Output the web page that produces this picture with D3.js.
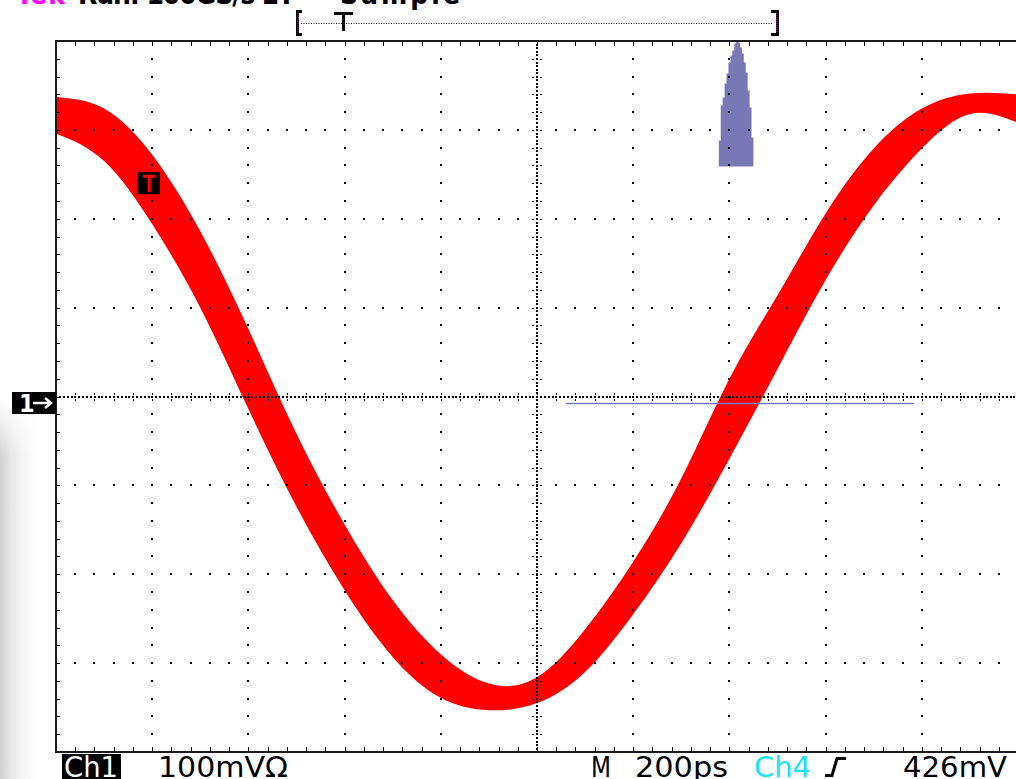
<!DOCTYPE html>
<html>
<head>
<meta charset="utf-8">
<script src="https://cdn.jsdelivr.net/npm/d3@7"></script>
<style>
  html, body { margin: 0; padding: 0; background: #fff; overflow: hidden; }
  svg { display: block; }
  text { font-family: "Liberation Sans Narrow", "DejaVu Sans Condensed", "Liberation Sans", sans-serif; }
</style>
</head>
<body>
<svg id="scope" width="1016" height="779"></svg>
<script>
// persistence band of Ch1, upper and lower edge read every 100 ps
var timePs = [-1000, -900, -800, -700, -600, -500, -400, -300, -200, -100, 0,
              100, 200, 300, 400, 500, 600, 700, 800, 900, 1000];
var upperMv = [337, 324, 272, 186, 76, -42, -144, -229, -290, -323, -316,
               -262, -186, -92, 20, 114, 206, 279, 324, 341, 340];
var lowerMv = [296, 265, 194, 100, -14, -124, -218, -293, -339, -353, -345,
               -310, -245, -165, -70, 31, 131, 215, 279, 318, 308];

// crossing-time histogram (Ch1 at ground level), bin edges in ps and hits
var histEdgesPs = [378, 382, 386, 390, 394, 398, 402, 406, 410, 414,
                   418, 422, 426, 430, 434, 438, 442, 446, 450];
var histHits = [26, 61, 69, 83, 93, 104, 111, 116, 123, 130,
                124, 119, 113, 104, 94, 76, 59, 29];
var histWindowPs = [60, 784];
var groundMv = -7;
var trigMarker = {t: -807, mv: 240};

// scope settings / readouts
var psPerDiv = 200, mvPerDiv = 100, xDivs = 10, yDivs = 8;
var headerLabels = ["Tek", "Run: 100GS/s ET", "Sample"];
var footerLabels = ["Ch1", "100mV\u03A9", "M", "200ps", "Ch4", "426mV"];

var plot = {left: 56, right: 1018, top: 41, bottom: 752};

var x = d3.scaleLinear()
  .domain([-psPerDiv * xDivs / 2, psPerDiv * xDivs / 2])
  .range([plot.left, plot.right]);
var y = d3.scaleLinear()
  .domain([-mvPerDiv * yDivs / 2, mvPerDiv * yDivs / 2])
  .range([plot.bottom, plot.top]);

var svg = d3.select("#scope");
var defs = svg.append("defs");

defs.append("clipPath").attr("id", "plotClip").append("rect")
  .attr("x", plot.left).attr("y", plot.top)
  .attr("width", plot.right - plot.left).attr("height", plot.bottom - plot.top);

var grad = defs.append("linearGradient").attr("id", "edgeGrey")
  .attr("x1", 0).attr("x2", 1).attr("y1", 0).attr("y2", 0);
grad.append("stop").attr("offset", 0).attr("stop-color", "#c4c4c4").attr("stop-opacity", 0.8);
grad.append("stop").attr("offset", 0.35).attr("stop-color", "#dcdcdc").attr("stop-opacity", 0.55);
grad.append("stop").attr("offset", 1).attr("stop-color", "#ffffff").attr("stop-opacity", 0);

var vgrad = defs.append("linearGradient").attr("id", "edgeFade")
  .attr("x1", 0).attr("x2", 0).attr("y1", 0).attr("y2", 1);
vgrad.append("stop").attr("offset", 0).attr("stop-color", "#fff").attr("stop-opacity", 0);
vgrad.append("stop").attr("offset", 0.15).attr("stop-color", "#fff").attr("stop-opacity", 1);
vgrad.append("stop").attr("offset", 1).attr("stop-color", "#fff").attr("stop-opacity", 1);
defs.append("mask").attr("id", "edgeMask").append("rect")
  .attr("x", 0).attr("y", 400).attr("width", 50).attr("height", 379)
  .attr("fill", "url(#edgeFade)");

/* grey photo strip on the far left */
svg.append("rect")
  .attr("x", 0).attr("y", 400).attr("width", 44).attr("height", 379)
  .attr("fill", "url(#edgeGrey)")
  .attr("mask", "url(#edgeMask)");

/* Waveform band */
var band = timePs.map(function(t, i) {
  return {t: t, hi: upperMv[i], lo: lowerMv[i]};
});

var area = d3.area()
  .x(function(d) { return x(d.t); })
  .y0(function(d) { return y(d.lo); })
  .y1(function(d) { return y(d.hi); })
  .curve(d3.curveNatural);

var traces = svg.append("g").attr("clip-path", "url(#plotClip)");

traces.append("path")
  .datum(band)
  .attr("d", area)
  .attr("fill", "#ff0000");

/* Histogram, drawn up from its own baseline */
var histBaseY = 166.5;
var hScale = d3.scaleLinear().domain([0, 130]).range([0, 130]);
var histPts = histHits.map(function(c, i) {
  return {t: histEdgesPs[i], c: c};
});
histPts.push({t: histEdgesPs[histEdgesPs.length - 1], c: histHits[histHits.length - 1]});

var histArea = d3.area()
  .x(function(d) { return x(d.t); })
  .y0(histBaseY)
  .y1(function(d) { return histBaseY - hScale(d.c); })
  .curve(d3.curveStepAfter);

traces.append("path")
  .datum(histPts)
  .attr("d", histArea)
  .attr("fill", "#7878b6");

traces.append("line")
  .attr("x1", x(histWindowPs[0])).attr("x2", x(histWindowPs[1]))
  .attr("y1", Math.round(y(groundMv)) + 0.5).attr("y2", Math.round(y(groundMv)) + 0.5)
  .attr("stroke", "#7a7ac0")
  .attr("stroke-width", 1.5);

/* Graticule */
var grat = svg.append("g").attr("shape-rendering", "crispEdges");

function dot(px, py, s) {
  grat.append("rect")
    .attr("x", Math.round(px - s / 2)).attr("y", Math.round(py - s / 2))
    .attr("width", s).attr("height", s)
    .attr("fill", "#000");
}

var xMajor = d3.range(x.domain()[0], x.domain()[1] + 1, psPerDiv);
var yMajor = d3.range(y.domain()[0], y.domain()[1] + 1, mvPerDiv);
var xMinor = d3.range(x.domain()[0], x.domain()[1] + 1, psPerDiv / 5);
var yMinor = d3.range(y.domain()[0], y.domain()[1] + 1, mvPerDiv / 5);
var xFine = d3.range(x.domain()[0], x.domain()[1] + 1, psPerDiv / 25);
var yFine = d3.range(y.domain()[0], y.domain()[1] + 1, mvPerDiv / 25);

// dotted major lines
xMajor.forEach(function(t) {
  if (t === x.domain()[0] || t === x.domain()[1] || t === 0) return;
  yMinor.forEach(function(v) {
    if (v === y.domain()[0] || v === y.domain()[1]) return;
    dot(x(t), y(v), 2);
  });
});
yMajor.forEach(function(v) {
  if (v === y.domain()[0] || v === y.domain()[1] || v === 0) return;
  xMinor.forEach(function(t) {
    if (t === x.domain()[0] || t === x.domain()[1]) return;
    dot(x(t), y(v), 2);
  });
});

// centre cross
xFine.forEach(function(t) { dot(x(t), y(0), 1.5); });
yFine.forEach(function(v) { dot(x(0), y(v), 1.5); });
xMinor.forEach(function(t) {
  grat.append("line")
    .attr("x1", Math.round(x(t)) + 0.5).attr("x2", Math.round(x(t)) + 0.5)
    .attr("y1", y(0) - 4).attr("y2", y(0) + 5)
    .attr("stroke", "#000").attr("stroke-width", 1).attr("stroke-dasharray", "2,1");
});
yMinor.forEach(function(v) {
  grat.append("line")
    .attr("y1", Math.round(y(v)) + 0.5).attr("y2", Math.round(y(v)) + 0.5)
    .attr("x1", x(0) - 5).attr("x2", x(0) + 6)
    .attr("stroke", "#000").attr("stroke-width", 1).attr("stroke-dasharray", "2,2");
});

// border ticks
xMinor.forEach(function(t) {
  var px = Math.round(x(t)) + 0.5;
  grat.append("line").attr("x1", px).attr("x2", px)
    .attr("y1", plot.top).attr("y2", plot.top + 5)
    .attr("stroke", "#000").attr("stroke-width", 1.5);
  grat.append("line").attr("x1", px).attr("x2", px)
    .attr("y1", plot.bottom - 5).attr("y2", plot.bottom)
    .attr("stroke", "#000").attr("stroke-width", 1.5);
});
yMinor.forEach(function(v) {
  var py = Math.round(y(v)) + 0.5;
  grat.append("line").attr("y1", py).attr("y2", py)
    .attr("x1", plot.left).attr("x2", plot.left + 4)
    .attr("stroke", "#000").attr("stroke-width", 1.5);
});

// frame
grat.append("path")
  .attr("d", "M" + plot.right + "," + plot.top + "H" + plot.left + "V" + plot.bottom + "H" + plot.right)
  .attr("fill", "none")
  .attr("stroke", "#1a1a1a")
  .attr("stroke-width", 2);

/* Markers */
// ground marker for channel 1
var gy = Math.round(y(groundMv));
svg.append("rect")
  .attr("x", 12).attr("y", gy - 11).attr("width", plot.left - 12).attr("height", 22)
  .attr("fill", "#000");
svg.append("text")
  .attr("x", 19).attr("y", gy + 9)
  .attr("fill", "#fff").attr("font-size", 25).attr("font-weight", "bold")
  .text("1");
svg.append("path")
  .attr("d", "M33," + gy + "H50M45," + (gy - 5) + "L51," + gy + "L45," + (gy + 5))
  .attr("fill", "none").attr("stroke", "#fff").attr("stroke-width", 2.5);

// trigger marker on the trace
var tx = x(trigMarker.t), ty = y(trigMarker.mv);
svg.append("rect")
  .attr("x", tx - 11).attr("y", ty - 11).attr("width", 22).attr("height", 22)
  .attr("fill", "#000");
svg.append("path")
  .attr("d", "M" + (tx - 6) + "," + (ty - 7) + "H" + (tx + 7) + "M" + (tx + 0.5) + "," + (ty - 7) + "V" + (ty + 9))
  .attr("fill", "none").attr("stroke", "#ff0000").attr("stroke-width", 3);

/* Record bracket at the top */
var hdr = svg.append("g");
hdr.append("line")
  .attr("x1", 301).attr("x2", 772).attr("y1", 23.5).attr("y2", 23.5)
  .attr("stroke", "#000").attr("stroke-width", 1).attr("stroke-dasharray", "1,1.5");
hdr.append("path")
  .attr("d", "M302,11.5H297.5V34.5H302")
  .attr("fill", "none").attr("stroke", "#000").attr("stroke-width", 3);
hdr.append("line")
  .attr("x1", 298).attr("x2", 298).attr("y1", 13).attr("y2", 33)
  .attr("stroke", "#ff00ff").attr("stroke-width", 1).attr("stroke-dasharray", "1,1");
hdr.append("path")
  .attr("d", "M771,11.5H777.5V34.5H771")
  .attr("fill", "none").attr("stroke", "#000").attr("stroke-width", 3);
hdr.append("line")
  .attr("x1", 777).attr("x2", 777).attr("y1", 13).attr("y2", 33)
  .attr("stroke", "#ff00ff").attr("stroke-width", 1).attr("stroke-dasharray", "1,1");
hdr.append("path")
  .attr("d", "M334,13.5H353M343.5,12V31")
  .attr("fill", "none").attr("stroke", "#000").attr("stroke-width", 3);

/* Header text (cut off at the top of the screen, as on the scope photo) */
var headerX = [16, 78, 340], headerW = [49, 217, 120];
var headerCol = ["#ff00ff", "#000", "#000"];
headerLabels.forEach(function(s, i) {
  svg.append("text")
    .attr("x", headerX[i]).attr("y", 4)
    .attr("font-size", 28)
    .attr("font-weight", "bold")
    .attr("fill", headerCol[i])
    .attr("textLength", headerW[i]).attr("lengthAdjust", "spacing")
    .text(s);
});

/* Footer readout */
svg.append("rect")
  .attr("x", 62).attr("y", 754).attr("width", 59).attr("height", 30)
  .attr("fill", "#000");
var footX = [64, 158, 591, 635, 754, 903];
var footW = [54, 130, 20, 93, 57, 104];
var footCol = ["#fff", "#000", "#000", "#000", "#16e4f2", "#000"];
footerLabels.forEach(function(s, i) {
  svg.append("text")
    .attr("x", footX[i]).attr("y", 777)
    .attr("font-size", 28)
    .attr("fill", footCol[i])
    .attr("textLength", footW[i]).attr("lengthAdjust", "spacingAndGlyphs")
    .text(s);
});
// rising-edge trigger symbol
svg.append("path")
  .attr("d", "M825,775.5H832L837,758.5H846")
  .attr("fill", "none").attr("stroke", "#000").attr("stroke-width", 3);
</script>
</body>
</html>
